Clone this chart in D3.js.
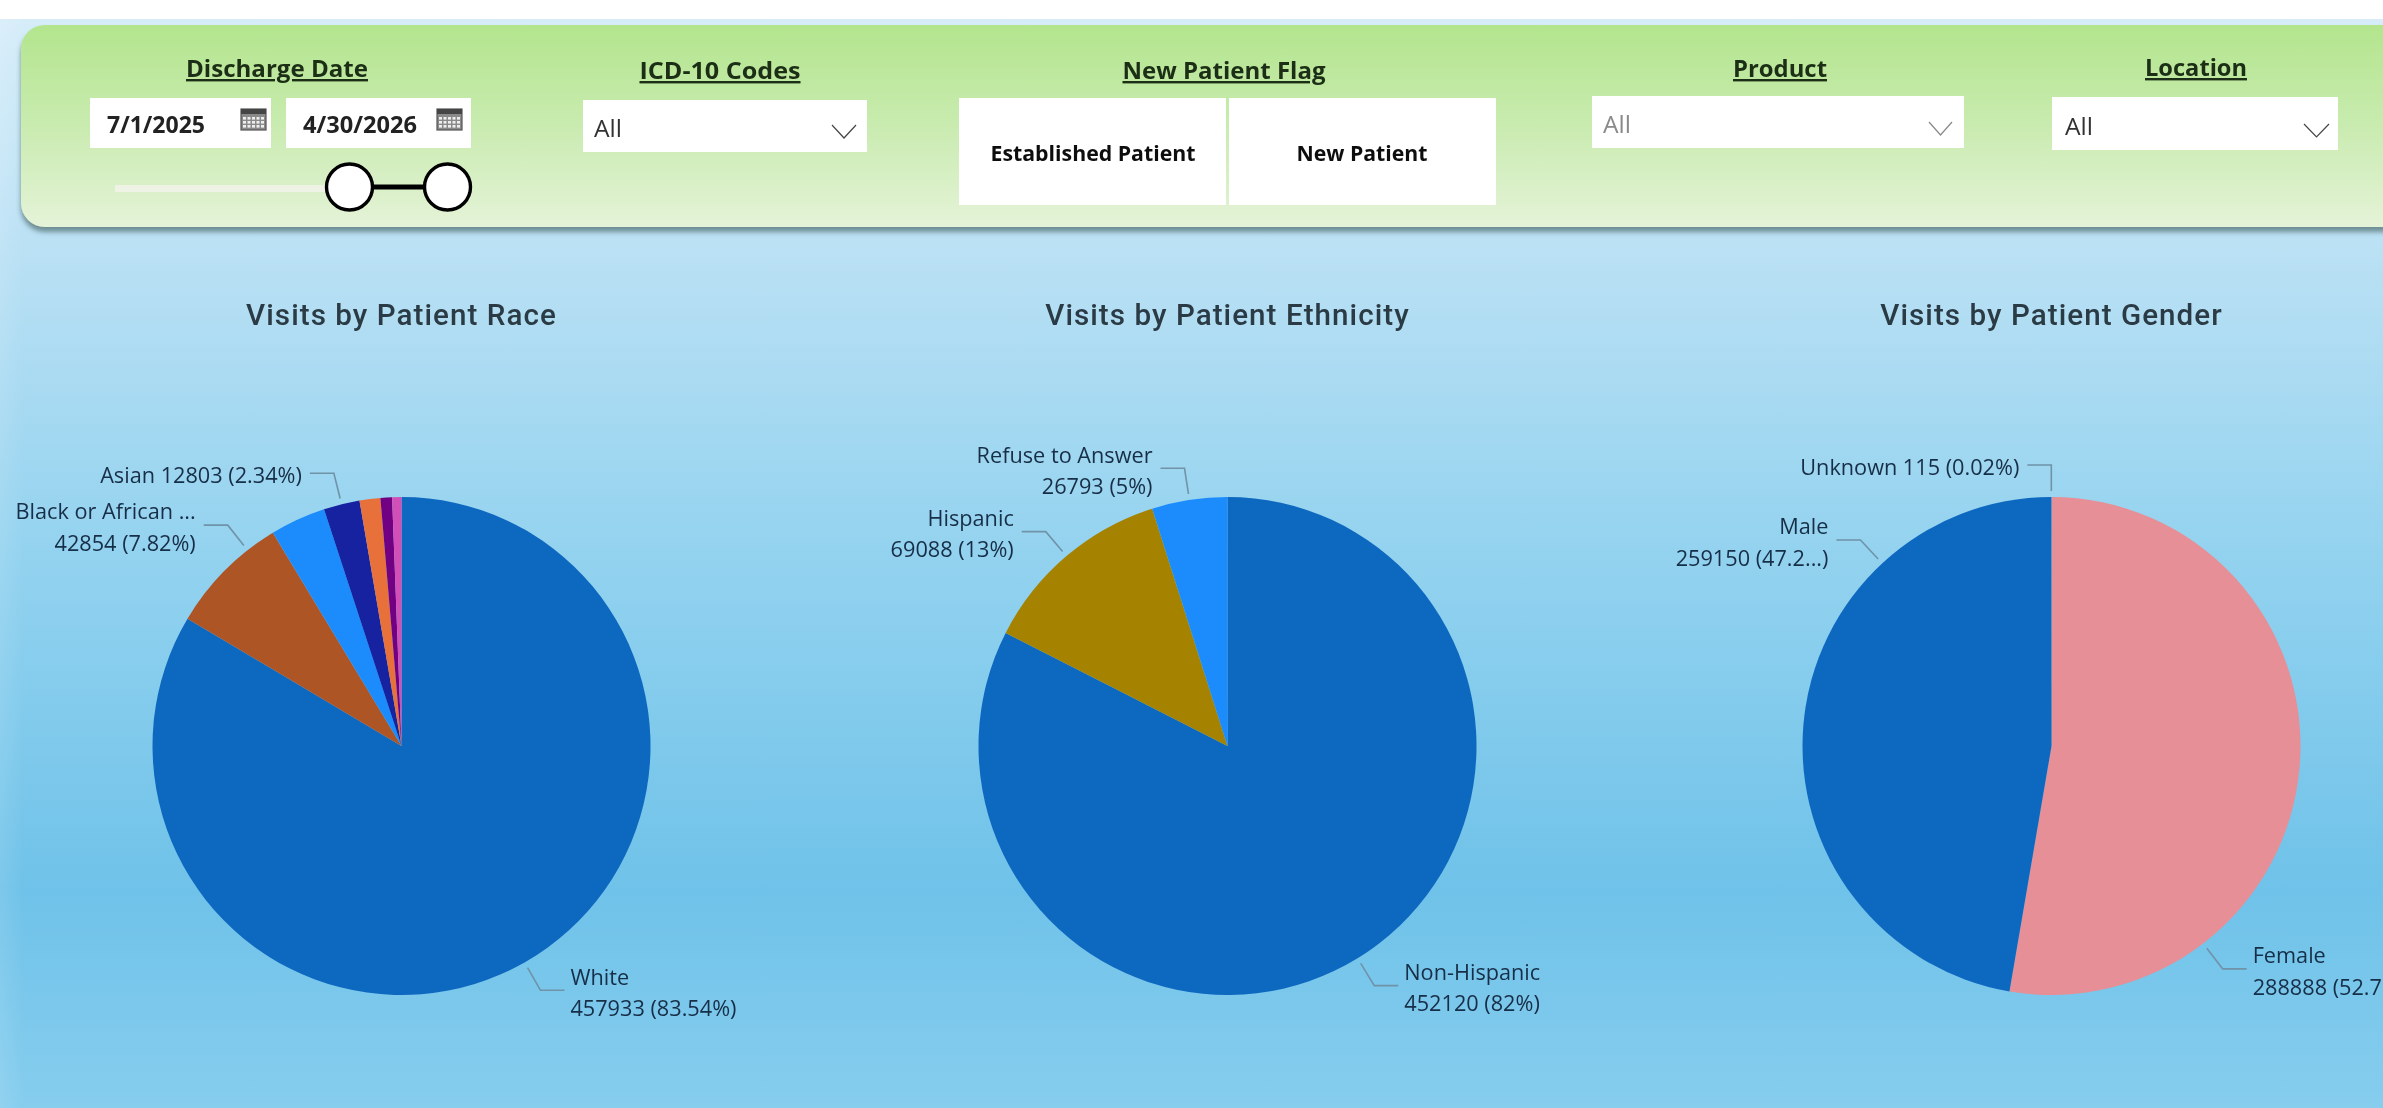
<!DOCTYPE html>
<html><head><meta charset="utf-8">
<script src="https://cdn.jsdelivr.net/npm/d3@7"></script>
<style>html,body{margin:0;padding:0;background:#fff;overflow:hidden}svg{display:block}</style>
</head><body><svg id="c" width="2383" height="1108"></svg>
<script>
// ---- data ----
const raceCategories=["White","Black or African American","Other Race","Asian","Two or More","Native American","Pacific Islander"];
const raceValues=[457933,42854,19770,12803,7400,4100,3300];
const raceColors=["#0f67bf","#ae5427","#1a8cfc","#1420a0","#e8703a","#720083","#d24fb8"];
const raceLabels=[["White","457933 (83.54%)"],["Black or African ...","42854 (7.82%)"],null,["Asian 12803 (2.34%)"],null,null,null];
const raceLeaderShift=[0,0.122,0,0,0,0,0];

const ethnicityCategories=["Non-Hispanic","Hispanic","Refuse to Answer"];
const ethnicityValues=[452120,69088,26793];
const ethnicityColors=["#0f67bf","#a58300","#1a8cfc"];
const ethnicityLabels=[["Non-Hispanic","452120 (82%)"],["Hispanic","69088 (13%)"],["Refuse to Answer","26793 (5%)"]];
const ethnicityLeaderShift=[0,0,0];

const genderCategories=["Female","Male","Unknown"];
const genderValues=[288888,259150,115];
const genderColors=["#e68f96","#0f67bf","#0f67bf"];
const genderLabels=[["Female","288888 (52.7"],["Male","259150 (47.2...)"],["Unknown 115 (0.02%)"]];
const genderLeaderShift=[0.831,0.739,0];

const chartTitles=["Visits by Patient Race","Visits by Patient Ethnicity","Visits by Patient Gender"];
const filterTitles=["Discharge Date","ICD-10 Codes","New Patient Flag","Product","Location"];
const dateValues=["7/1/2025","4/30/2026"];
const flagOptions=["Established Patient","New Patient"];
const dropdownValue="All";

// ---- layout ----
const svg=d3.select("#c");
const SANS="'Open Sans','Noto Sans',sans-serif";
const defs=svg.append("defs");
const bg=defs.append("linearGradient").attr("id","bg").attr("x1",0).attr("y1",0).attr("x2",0).attr("y2",1);
[[0,"#d6edf9"],[0.22,"#b9e0f4"],[0.5,"#92d2ef"],[0.8,"#6fc2e9"],[1,"#86cdee"]].forEach(s=>bg.append("stop").attr("offset",s[0]).attr("stop-color",s[1]));
const edge=defs.append("linearGradient").attr("id","edge");
[[0,0.1],[1,0]].forEach(s=>edge.append("stop").attr("offset",s[0]).attr("stop-color","#fff").attr("stop-opacity",s[1]));
const pg=defs.append("linearGradient").attr("id","pg").attr("x1",0).attr("y1",0).attr("x2",0).attr("y2",1);
[[0,"#b3e58d"],[0.5,"#c9ebb0"],[1,"#e5f3d8"]].forEach(s=>pg.append("stop").attr("offset",s[0]).attr("stop-color",s[1]));
const sh=defs.append("filter").attr("id","sh").attr("x","-5%").attr("y","-10%").attr("width","110%").attr("height","125%");
sh.append("feDropShadow").attr("dx",0).attr("dy",5).attr("stdDeviation",2.6).attr("flood-color","#4d6a6a").attr("flood-opacity",0.7);
const soft=defs.append("filter").attr("id","soft").attr("x","-2%").attr("y","-2%").attr("width","104%").attr("height","104%");
soft.append("feGaussianBlur").attr("stdDeviation",0.6);

svg.append("rect").attr("width",2383).attr("height",1108).attr("fill","#fff");
svg.append("rect").attr("y",19).attr("width",2383).attr("height",1089).attr("fill","url(#bg)");
svg.append("rect").attr("y",19).attr("width",24).attr("height",1089).attr("fill","url(#edge)");
const root=svg.append("g").attr("filter","url(#soft)");
root.append("rect").attr("x",21).attr("y",25).attr("width",2460).attr("height",202).attr("rx",24).attr("fill","url(#pg)").attr("filter","url(#sh)");

function headText(t,cx,base,w){
  root.append("text").attr("x",cx).attr("y",base).attr("text-anchor","middle")
    .attr("font-family",SANS).attr("font-weight",700).attr("font-size",24).attr("fill","#1c2f14")
    .attr("text-decoration","underline").attr("textLength",w).attr("lengthAdjust","spacingAndGlyphs").text(t);
}
function box(x,y,w,h){root.append("rect").attr("x",x).attr("y",y).attr("width",w).attr("height",h).attr("fill","#fff");}
function chevron(x0,x1,y0,y1,col){
  root.append("path").attr("d",d3.line()([[x0,y0],[(x0+x1)/2,y1],[x1,y0]])).attr("fill","none").attr("stroke",col).attr("stroke-width",1.2);
}
function plainText(t,x,y,col,size,weight,anchor,w){
  const s=root.append("text").attr("x",x).attr("y",y).attr("font-family",SANS).attr("font-size",size)
    .attr("font-weight",weight||400).attr("fill",col).attr("text-anchor",anchor||"start").text(t);
  if(w)s.attr("textLength",w).attr("lengthAdjust","spacingAndGlyphs");
}
function calendar(x,y){
  const g=root.append("g").attr("transform",`translate(${x},${y})`);
  g.append("rect").attr("width",25).attr("height",21).attr("fill","#8a8a8a").attr("stroke","#555").attr("stroke-width",1.2);
  g.append("rect").attr("x",0).attr("width",25).attr("height",5).attr("fill","#444");
  d3.range(3).forEach(r=>d3.range(5).forEach(c=>g.append("rect").attr("x",2+c*4.5).attr("y",8+r*4).attr("width",3).attr("height",2.6).attr("fill","#eee")));
}
// discharge date
headText(filterTitles[0],277,77,182);
box(90,98,181,50); box(286,98,185,50);
plainText(dateValues[0],107,133,"#222",23,700,"start",98);
plainText(dateValues[1],303,133,"#222",23,700,"start",114);
calendar(241,109); calendar(437,109);
root.append("rect").attr("x",115).attr("y",185).attr("width",215).attr("height",7).attr("fill","#eef3e6");
root.append("line").attr("x1",349).attr("x2",447).attr("y1",187).attr("y2",187).attr("stroke","#000").attr("stroke-width",5);
[349.5,447.5].forEach(x=>root.append("ellipse").attr("cx",x).attr("cy",187).attr("rx",23).attr("ry",23).attr("fill","#fff").attr("stroke","#000").attr("stroke-width",3.4));
// ICD
headText(filterTitles[1],720,79,161);
box(583,100,284,52);
plainText(dropdownValue,594,137,"#333",23,400,"start",28);
chevron(832,856,125,138,"#444");
// flag
headText(filterTitles[2],1224,79,203);
box(959,98,267,107); box(1229,98,267,107);
plainText(flagOptions[0],1093,161,"#111",22,700,"middle",205);
plainText(flagOptions[1],1362,161,"#111",22,700,"middle",131);
// product
headText(filterTitles[3],1780,77,94);
box(1592,96,372,52);
plainText(dropdownValue,1603,133,"#8a8a8a",23,400,"start",28);
chevron(1929,1952,122,135,"#888");
// location
headText(filterTitles[4],2196,76,102);
box(2052,97,286,53);
plainText(dropdownValue,2065,135,"#333",23,400,"start",28);
chevron(2304,2329,124,137,"#444");

// ---- pies ----
const R=249;
const arc=d3.arc().innerRadius(0).outerRadius(R);
const pie=d3.pie().sort(null).value(d=>d);
function drawPie(cx,cy,values,colors,labels,shift,title,cats){
  root.append("text").attr("x",cx).attr("y",325).attr("text-anchor","middle")
    .attr("font-family","Roboto,sans-serif").attr("font-weight",500).attr("font-size",29.6).attr("letter-spacing",1.05)
    .attr("fill","#2b3b44").text(title);
  const g=root.append("g").attr("transform",`translate(${cx},${cy})`);
  const arcs=pie(values);
  g.selectAll("path.s").data(arcs).join("path").attr("class","s").attr("d",arc)
    .attr("fill",(d,i)=>colors[i]).append("title").text((d,i)=>cats[i]);
  arcs.forEach((d,i)=>{
    if(!labels[i])return;
    const a=(d.startAngle+d.endAngle)/2+shift[i];
    const p0=d3.pointRadial(a,R+6), p1=d3.pointRadial(a,R+32);
    const right=Math.sin(a)>=0, dir=right?1:-1;
    const p2=[p1[0]+dir*24,p1[1]];
    g.append("path").attr("d",d3.line()([p0,p1,p2])).attr("fill","none").attr("stroke","#6f93a8").attr("stroke-width",1.6);
    const lines=labels[i], lh=31.5, cyT=p1[1]+2;
    lines.forEach((t,k)=>{
      g.append("text").attr("x",p2[0]+dir*(right?6:8)).attr("y",cyT+(k-(lines.length-1)/2)*lh+8)
       .attr("text-anchor",right?"start":"end").attr("font-family",SANS).attr("font-size",21.7)
       .attr("fill","#172e46").text(t);
    });
  });
}
drawPie(401.5,746,raceValues,raceColors,raceLabels,raceLeaderShift,chartTitles[0],raceCategories);
drawPie(1227.5,746,ethnicityValues,ethnicityColors,ethnicityLabels,ethnicityLeaderShift,chartTitles[1],ethnicityCategories);
drawPie(2051.5,746,genderValues,genderColors,genderLabels,genderLeaderShift,chartTitles[2],genderCategories);
</script></body></html>
